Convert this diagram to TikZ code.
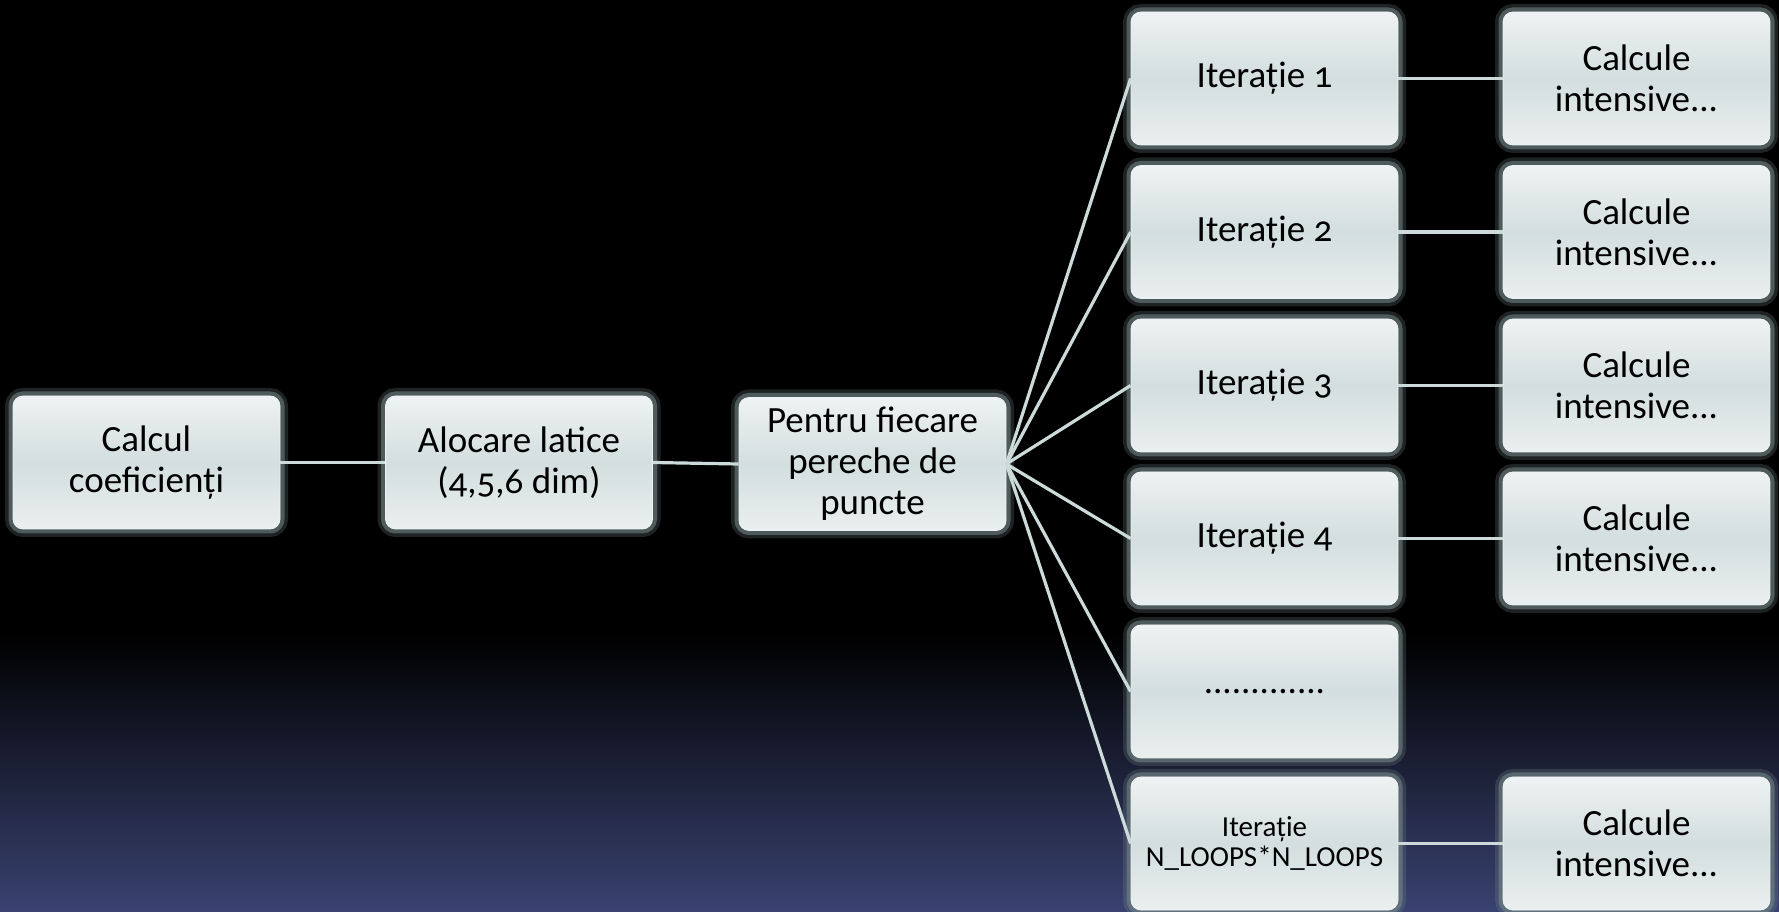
\documentclass[tikz,border=0pt]{standalone}
\usepackage{fontspec}
\setmainfont{Carlito}[Numbers=OldStyle]
\definecolor{bgblue}{RGB}{57,66,112}
\definecolor{boxtop}{RGB}{238,242,242}
\definecolor{boxmid}{RGB}{211,222,222}
\definecolor{boxbot}{RGB}{234,239,239}
\definecolor{glowc}{RGB}{120,138,138}
\definecolor{linkc}{RGB}{205,218,218}
\begin{document}
\begin{tikzpicture}[x=0.5pt, y=0.5pt,
    box/.style={rounded corners=5pt, draw=boxtop, line width=0.4pt,
        top color=boxtop, bottom color=boxbot, middle color=boxmid,
        minimum width=133.5pt, minimum height=66.5pt, align=center,
        inner sep=2pt, text=black,
        font=\fontsize{18.5}{20.5}\selectfont,
        preaction={draw=glowc, line width=8pt, opacity=0.25, rounded corners=5pt},
        preaction={draw=glowc, line width=4.5pt, opacity=0.55, rounded corners=5pt}},
    link/.style={draw=linkc, line width=1.6pt}]

    % === Background ===
    \useasboundingbox (0, 0) rectangle (1779, 911);
    \fill[black] (0, 0) rectangle (1779, 911);
    \shade[top color=black, bottom color=bgblue] (0, 0) rectangle (1779, 276);

    % Left chain
    \node[box] (C1) at (146.5, 448.5) {Calcul\\coeficienți};
    \node[box] (A1) at (519, 448.5) {Alocare latice\\(4,5,6 dim)};
    \node[box] (P1) at (872.5, 447) {Pentru fiecare\\pereche de\\puncte};

    % Iterations
    \node[box] (It1) at (1264.5, 832.5) {Iterație 1};
    \node[box] (It2) at (1264.5, 679) {Iterație 2};
    \node[box] (It3) at (1264.5, 525.5) {Iterație 3};
    \node[box] (It4) at (1264.5, 372.5) {Iterație 4};
    \node[box] (ItD) at (1264.5, 219.5) {.............};
    \node[box, font=\fontsize{14.5}{14.8}\selectfont] (ItN) at (1264.5, 67.5) {Iterație\\N\_LOOPS*N\_LOOPS};

    % Heavy work
    \node[box] (Cl1) at (1636.5, 832.5) {Calcule\\intensive...};
    \node[box] (Cl2) at (1636.5, 679) {Calcule\\intensive...};
    \node[box] (Cl3) at (1636.5, 525.5) {Calcule\\intensive...};
    \node[box] (Cl4) at (1636.5, 372.5) {Calcule\\intensive...};
    \node[box] (ClN) at (1636.5, 67.5) {Calcule\\intensive...};

    % Connections
    \draw[link] (C1.east) -- (A1.west);
    \draw[link] (A1.east) -- (P1.west);

    \draw[link] (P1.east) -- (It1.west);
    \draw[link] (P1.east) -- (It2.west);
    \draw[link] (P1.east) -- (It3.west);
    \draw[link] (P1.east) -- (It4.west);
    \draw[link] (P1.east) -- (ItD.west);
    \draw[link] (P1.east) -- (ItN.west);

    \draw[link] (It1.east) -- (Cl1.west);
    \draw[link] (It2.east) -- (Cl2.west);
    \draw[link] (It3.east) -- (Cl3.west);
    \draw[link] (It4.east) -- (Cl4.west);
    \draw[link] (ItN.east) -- (ClN.west);

\end{tikzpicture}
\end{document}
